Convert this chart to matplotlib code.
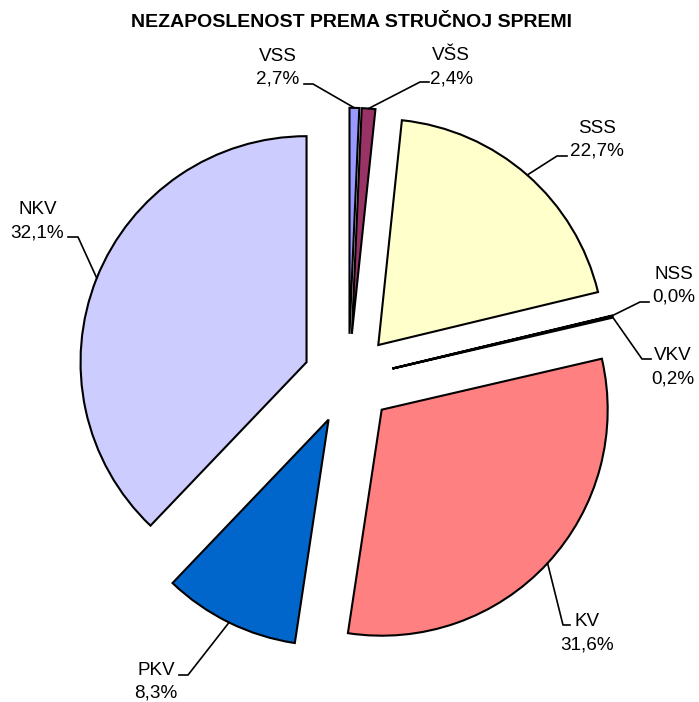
import numpy as np
import matplotlib
matplotlib.use('Agg')
from matplotlib import pyplot as plt

categories = ['VSS', 'VŠS', 'SSS', 'NSS', 'VKV', 'KV', 'PKV', 'NKV']
# slice sizes as they are drawn (arc in degrees)
slice_deg = [2.5, 3.5, 70.5, 0.1, 0.4, 111.7, 35.1, 136.4]
# percentages as printed on the chart
pct_labels = ['2,7%', '2,4%', '22,7%', '0,0%', '0,2%', '31,6%', '8,3%', '32,1%']
colors = ['#9999FF', '#993366', '#FFFFCC', '#CCFFFF', '#660066', '#FF8080', '#0066CC', '#CCCCFF']

W, H = 699, 702
CX, CY, R = 348.5, 379.0, 226.0  # pie centre and radius in pixels
LINE = 23  # gap between the two lines of a label, px

# label layout in px: text centre x, baseline of name, leader elbow, leader end
label_layout = {
    'VSS': (277.5, 61, (313, 84), (304, 84)),
    'VŠS': (451, 60, (420, 82), (429, 82)),
    'SSS': (597, 133, (557, 156), (567, 156)),
    'NSS': (674, 279, (640, 302), (649, 302)),
    'VKV': (673, 360, (642, 359), (651, 359)),
    'KV': (587.5, 626, (563, 625), (570, 625)),
    'PKV': (156, 675, (188, 675), (179, 675)),
    'NKV': (37.5, 214, (78, 237), (68, 237)),
}


def to_data(px, py):
    return (px - CX) / R, (CY - py) / R


plt.rcParams['font.family'] = ['Liberation Sans', 'DejaVu Sans']

fig = plt.figure(figsize=(W / 100, H / 100), dpi=100)
fig.set_facecolor('white')
ax = fig.add_axes([0, 0, 1, 1])

wedges, _ = ax.pie(slice_deg, colors=colors, startangle=90, counterclock=False,
                   explode=[0.2] * len(slice_deg), radius=1,
                   wedgeprops=dict(edgecolor='black', linewidth=1.5))

for w, name, pct in zip(wedges, categories, pct_labels):
    mid = np.deg2rad((w.theta1 + w.theta2) / 2)
    anchor = (w.center[0] + w.r * np.cos(mid), w.center[1] + w.r * np.sin(mid))
    cx, base, elbow, end = label_layout[name]
    e = to_data(*elbow)
    f = to_data(*end)
    ax.plot([anchor[0], e[0], f[0]], [anchor[1], e[1], f[1]], color='black', lw=1.2)
    ax.text(*to_data(cx, base), name, ha='center', va='baseline', fontsize=13.6)
    ax.text(*to_data(cx, base + LINE), pct, ha='center', va='baseline', fontsize=13.6)

ax.set_xlim(-CX / R, (W - CX) / R)
ax.set_ylim(-(H - CY) / R, CY / R)
ax.set_aspect('equal')
ax.axis('off')

fig.text(351 / W, 1 - 27 / H, 'NEZAPOSLENOST PREMA STRUČNOJ SPREMI',
         ha='center', va='baseline', fontsize=14, fontweight='bold')

plt.savefig('out.png', dpi=100)
